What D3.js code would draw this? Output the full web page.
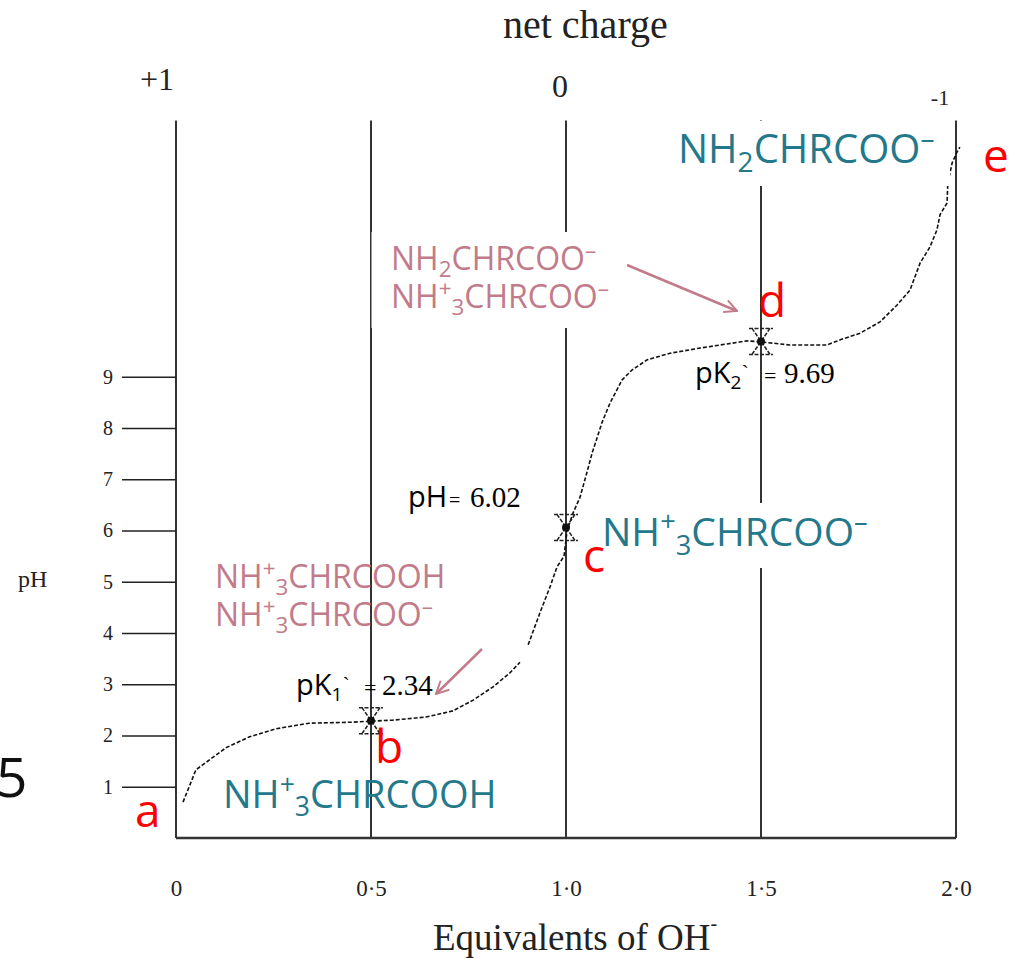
<!DOCTYPE html>
<html>
<head>
<meta charset="utf-8">
<script src="https://cdn.jsdelivr.net/npm/d3@7"></script>
<style>
  html, body { margin: 0; padding: 0; background: #fff; }
  svg { display: block; }
</style>
</head>
<body>
<div id="chart"></div>
<script>
// titration curve (equivalents of OH-, pH); null = gap in the trace
const curveEq = [0.018, 0.051, 0.085, 0.128, 0.187, 0.256, 0.341, 0.454, 0.50, 0.556, 0.641, 0.710, 0.762, 0.813, 0.856, 0.882, null,
  0.903, 0.933, 0.959, 0.977, 0.995, 1.003, 1.018, 1.036, 1.051, 1.067, 1.092, 1.113, 1.144, 1.169, 1.208, 1.267, 1.344, 1.413, 1.464, 1.50,
  1.574, 1.669, 1.703, 1.754, 1.805, 1.849, 1.882, 1.908, 1.933, 1.951, 1.959, 1.977, 1.979, 1.990, 2.003, 2.010];
const curvePH = [0.70, 1.33, 1.52, 1.76, 1.97, 2.13, 2.24, 2.26, 2.28, 2.30, 2.36, 2.48, 2.69, 2.95, 3.22, 3.43, null,
  3.77, 4.39, 4.90, 5.29, 5.50, 6.01, 6.34, 6.65, 7.06, 7.51, 8.10, 8.49, 8.94, 9.13, 9.33, 9.46, 9.56, 9.64, 9.70, 9.68,
  9.62, 9.62, 9.72, 9.85, 10.07, 10.40, 10.69, 11.22, 11.53, 11.86, 12.16, 12.39, 12.78, 13.17, 13.39, 13.48];

// marked points b, c, d
const markEq = [0.5, 1.0, 1.5];
const markPH = [2.29, 6.06, 9.69];

const xTicks = [0, 0.5, 1.0, 1.5, 2.0];
const xTickLabels = ['0', '0·5', '1·0', '1·5', '2·0'];
const yTicks = [1, 2, 3, 4, 5, 6, 7, 8, 9];
const chargeEq = [0, 1, 2];
const chargeLabels = ['+1', '0', '-1'];

const width = 1017, height = 958;
const serif = '"Liberation Serif", "Times New Roman", serif';
const sans = '"Open Sans", "Noto Sans", sans-serif';
const teal = '#23798b';
const pink = '#c27b8a';

let x = d3.scaleLinear().domain([0, 2]).range([176, 956]);
let y = d3.scaleLinear().domain([0, 14]).range([838, 120.5]);

let svg = d3.select('#chart').append('svg')
  .attr('width', width)
  .attr('height', height);

svg.append('defs').append('marker')
  .attr('id', 'arrow')
  .attr('viewBox', '0 0 12 12')
  .attr('refX', 11).attr('refY', 6)
  .attr('markerWidth', 6).attr('markerHeight', 6)
  .attr('markerUnits', 'strokeWidth')
  .attr('orient', 'auto')
  .append('path')
  .attr('d', 'M1,1 L11,6 L1,11')
  .attr('fill', 'none')
  .attr('stroke', pink)
  .attr('stroke-width', 1.6);

// vertical grid lines at each half equivalent
svg.append('g').selectAll('line').data(xTicks).enter().append('line')
  .attr('x1', d => x(d)).attr('x2', d => x(d))
  .attr('y1', y(14)).attr('y2', y(0))
  .attr('stroke', '#333').attr('stroke-width', 2);

// baseline
svg.append('line')
  .attr('x1', x(0)).attr('x2', x(2))
  .attr('y1', y(0)).attr('y2', y(0))
  .attr('stroke', '#333').attr('stroke-width', 2.5);

// pH axis
let yAxis = svg.append('g')
  .attr('transform', `translate(${x(0)},0)`)
  .call(d3.axisLeft(y).tickValues(yTicks).tickSize(54).tickSizeOuter(0).tickPadding(9));
yAxis.select('.domain').remove();
yAxis.selectAll('line').attr('stroke', '#222').attr('stroke-width', 1.6);
yAxis.selectAll('text').attr('font-family', serif).attr('font-size', 20).attr('fill', '#222');

// equivalents axis
let xAxis = svg.append('g')
  .attr('transform', `translate(0,${y(0)})`)
  .call(d3.axisBottom(x).tickValues(xTicks).tickSize(0).tickPadding(42).tickFormat((d, i) => xTickLabels[i]));
xAxis.select('.domain').remove();
xAxis.selectAll('text').attr('font-family', serif).attr('font-size', 23).attr('fill', '#222');

// top: net charge
svg.append('text')
  .attr('x', 503).attr('y', 38)
  .attr('font-family', serif).attr('font-size', 40).attr('fill', '#222')
  .text('net charge');
const chargeDx = [-19, -6, -16];
const chargeY = [90, 97, 105];
const chargeSize = [32, 32, 22];
svg.append('g').selectAll('text').data(chargeLabels).enter().append('text')
  .attr('x', (d, i) => x(chargeEq[i]) + chargeDx[i])
  .attr('y', (d, i) => chargeY[i])
  .attr('text-anchor', 'middle')
  .attr('font-family', serif).attr('font-size', (d, i) => chargeSize[i]).attr('fill', '#222')
  .text(d => d);

// axis titles
let xTitle = svg.append('text')
  .attr('x', 433).attr('y', 950)
  .attr('font-family', serif).attr('font-size', 37).attr('fill', '#222');
xTitle.append('tspan').text('Equivalents of OH');
xTitle.append('tspan').attr('font-size', 20).attr('dy', -20).text('-');

svg.append('text')
  .attr('x', 18).attr('y', 587)
  .attr('font-family', serif).attr('font-size', 24).attr('fill', '#222')
  .text('pH');

// slide number cut at the left edge
svg.append('text')
  .attr('x', -4).attr('y', 797)
  .attr('font-family', sans).attr('font-size', 55).attr('fill', '#111')
  .text('5');

// titration curve
let line = d3.line()
  .defined((d, i) => curveEq[i] !== null)
  .x((d, i) => x(curveEq[i]))
  .y((d, i) => y(curvePH[i]));

svg.append('path')
  .attr('d', line(curveEq))
  .attr('fill', 'none')
  .attr('stroke', '#111')
  .attr('stroke-width', 1.6)
  .attr('stroke-dasharray', '4,2');

// error-bar style markers at b, c, d
let marks = svg.append('g').selectAll('g').data(markEq).enter().append('g')
  .attr('transform', (d, i) => `translate(${x(d)},${y(markPH[i])})`);
marks.append('path')
  .attr('d', 'M-12,-13 H12 M-12,13 H12 M-9,-13 L9,13 M9,-13 L-9,13')
  .attr('fill', 'none').attr('stroke', '#222').attr('stroke-width', 1.5)
  .attr('stroke-dasharray', '4,1.5');
marks.append('circle').attr('r', 4).attr('fill', '#111');

// white boxes behind labels
const boxes = [[371.5, 232, 254, 96], [598, 503, 272, 65], [672, 121, 278, 65]];
svg.append('g').selectAll('rect').data(boxes).enter().append('rect')
  .attr('x', d => d[0]).attr('y', d => d[1])
  .attr('width', d => d[2]).attr('height', d => d[3])
  .attr('fill', '#fff');

// chemical formula with sub/superscripts
function formula(px, py, parts, size, color) {
  let t = svg.append('text')
    .attr('x', px).attr('y', py)
    .attr('font-family', sans).attr('font-size', size).attr('fill', color);
  let shift = 0;
  parts.forEach(([s, kind]) => {
    let target = kind === 'sup' ? -0.38 * size : kind === 'sub' ? 0.22 * size : 0;
    t.append('tspan')
      .attr('dy', target - shift)
      .attr('font-size', kind ? size * 0.7 : size)
      .text(s);
    shift = target;
  });
  return t;
}

const zwitterion = [['NH'], ['+', 'sup'], ['3', 'sub'], ['CHRCOO'], ['\u2013', 'sup']];
const cation = [['NH'], ['+', 'sup'], ['3', 'sub'], ['CHRCOOH']];
const anion = [['NH'], ['2', 'sub'], ['CHRCOO'], ['\u2013', 'sup']];

formula(678, 163, anion, 40, teal);
formula(602, 546, zwitterion, 39, teal);
formula(223, 808, cation, 38, teal);

formula(391, 270, anion, 32, pink);
formula(391, 308, zwitterion, 32, pink);
formula(215, 588, cation, 32, pink);
formula(215, 626, zwitterion, 32, pink);

// arrows
svg.append('line')
  .attr('x1', 627).attr('y1', 265).attr('x2', 737).attr('y2', 311)
  .attr('stroke', pink).attr('stroke-width', 2.5).attr('marker-end', 'url(#arrow)');
svg.append('line')
  .attr('x1', 482).attr('y1', 649).attr('x2', 436).attr('y2', 694)
  .attr('stroke', pink).attr('stroke-width', 2.5).attr('marker-end', 'url(#arrow)');

// pK / pI annotations
function note(px, py, head, sub, num, eqX, numX) {
  let t = svg.append('text').attr('x', px).attr('y', py).attr('fill', '#000');
  t.append('tspan').attr('font-family', sans).attr('font-size', 29).text(head);
  if (sub) {
    t.append('tspan').attr('font-family', sans).attr('font-size', 19).attr('dy', 6).text(sub);
    t.append('tspan').attr('font-family', serif).attr('font-size', 22).attr('dy', -9).text('`');
    t.append('tspan').attr('x', eqX).attr('font-family', serif).attr('font-size', 22).attr('dy', 3).text('=');
  } else {
    t.append('tspan').attr('x', eqX).attr('font-family', serif).attr('font-size', 20).text('=');
  }
  t.append('tspan').attr('x', numX).attr('font-family', serif).attr('font-size', 29).text(num);
}
note(695, 383, 'pK', '2', '9.69', 764, 784);
note(408, 507, 'pH', null, '6.02', 449, 470);
note(296, 695, 'pK', '1', '2.34', 364, 382);

// point letters
const letters = ['a', 'b', 'c', 'd', 'e'];
const letterPos = [[135, 827], [375, 763], [583, 572], [758, 317], [983, 172]];
svg.append('g').selectAll('text').data(letters).enter().append('text')
  .attr('x', (d, i) => letterPos[i][0]).attr('y', (d, i) => letterPos[i][1])
  .attr('font-family', sans).attr('font-size', 46).attr('fill', '#ff0000')
  .text(d => d);
</script>
</body>
</html>
